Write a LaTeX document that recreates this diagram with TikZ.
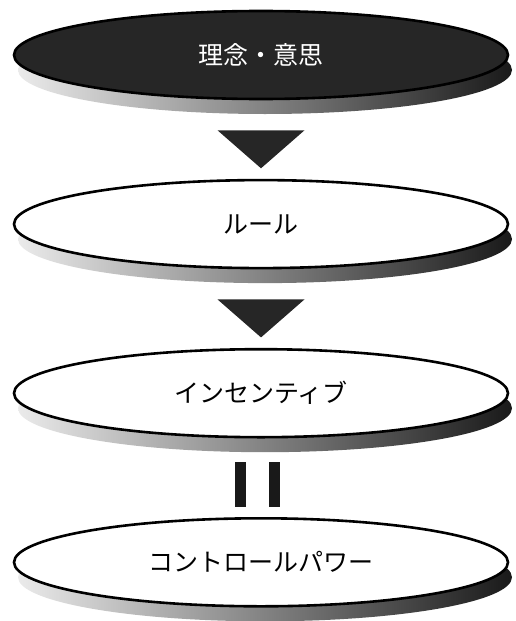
\documentclass[tikz,border=0pt]{standalone}
\usepackage{fontspec}
\newfontfamily\jp{Noto Sans CJK JP}
\usetikzlibrary{positioning,shapes.geometric,shadows,calc}

\begin{document}
\begin{tikzpicture}[
  x=1pt, y=1pt,
  node distance=78.5pt,
  every node/.style={ellipse, draw, line width=2.6pt, fill=white,
                     minimum width=494pt, minimum height=88pt,
                     font=\jp\fontsize{25}{30}\selectfont,
                     general shadow={shadow xshift=4pt, shadow yshift=-15pt,
                       left color=black!8, middle color=black!35, right color=black!90}},
  wedge/.style={fill=black!85},
  bar/.style={fill=black!90}
]
\useasboundingbox (0,0) rectangle (516,-621);
\node (ideal) [fill=black!85, text=white] at (261,-55) {理念・意思};
\node (rule) [below=of ideal] {ルール};
\node (incentive) [below=of rule] {インセンティブ};
\node (power) [below=of incentive] {コントロールパワー};

\fill[wedge] ($(ideal.south)+(-43.5,-30)$) -- ++(87,0) -- ++(-43.5,-38) -- cycle;
\fill[wedge] ($(rule.south)+(-43.5,-30)$) -- ++(87,0) -- ++(-43.5,-38) -- cycle;
\fill[bar] ($(incentive.south)+(-26,-23)$) rectangle ++(11,-45);
\fill[bar] ($(incentive.south)+(8,-23)$) rectangle ++(11,-45);
\end{tikzpicture}
\end{document}
